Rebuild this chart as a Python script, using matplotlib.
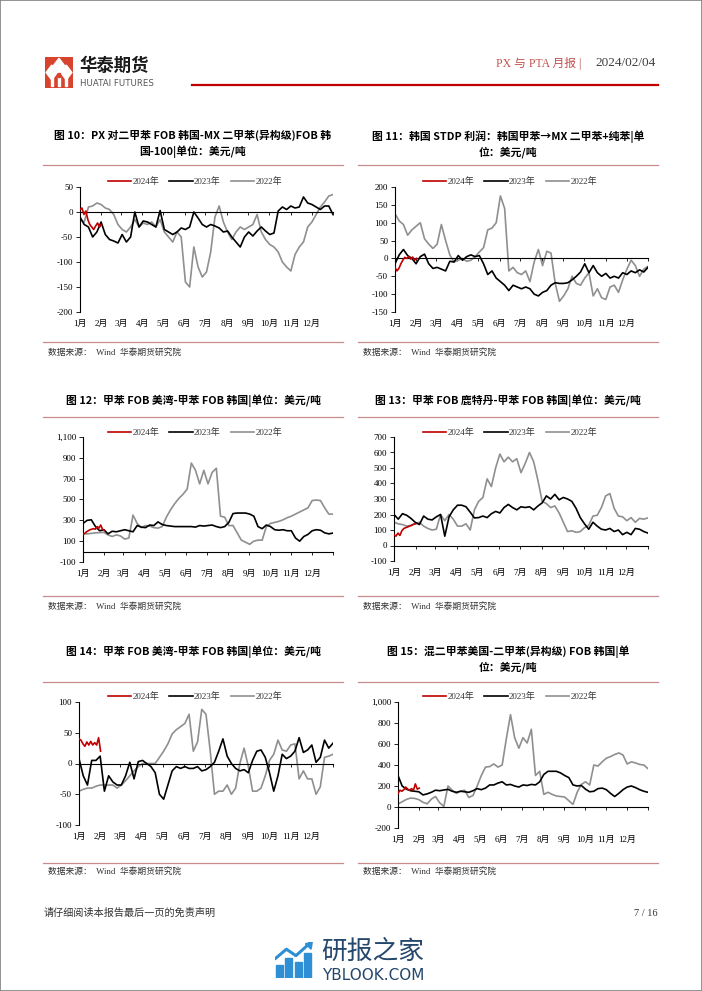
import numpy as np
import matplotlib.pyplot as plt
from matplotlib.patches import Rectangle, Polygon
from matplotlib.lines import Line2D

plt.rcParams['font.family'] = ['Liberation Serif', 'Noto Sans CJK SC', 'DejaVu Sans']
plt.rcParams['axes.unicode_minus'] = False

W, H = 702, 991

month_labels = [f'{m}月' for m in range(1, 13)]
month_days = [0, 31, 59, 90, 120, 151, 181, 212, 243, 273, 304, 334]
series_names = ['2024年', '2023年', '2022年']
series_colors = ['#c00000', '#000000', '#8f8f8f']

# ---- chart 10: PX - MX spread ----
c10_2024 = [5, 8, -5, 2, -15, -25, -30, -35, -28, -22, -30, -25]
c10_2023 = [-10, -25, -30, -50, -40, -20, -45, -55, -58, -62,
            -45, -60, -50, 0, -30, -18, -20, -25, -30, 3,
            -35, -40, -45, -40, -32, -35, -30, 0, -12, -25,
            -30, -25, -28, -32, -40, -38, -50, -60, -70, -50,
            -40, -48, -38, -30, -38, -45, -42, 2, 10, 5,
            12, 8, 10, 30, 18, 15, 10, 5, 12, 12, -5]
c10_2022 = [-15, -20, 10, 12, 18, 15, 8, 5, -5, -25,
            -35, -40, -30, -15, -30, -22, -25, -20, -30, -15,
            -40, -50, -60, -40, -50, -140, -150, -70, -110, -130,
            -120, -80, -10, 12, -20, -40, -55, -40, -30, -35,
            -30, -25, -5, -40, -55, -65, -70, -80, -100, -110,
            -118, -85, -70, -60, -30, -20, -5, 10, 20, 32, 35]

# ---- chart 11: Korea STDP margin ----
c11_2024 = [-25, -35, -28, -15, -5, 3, 0, 5, -2, 4, -5, 0]
c11_2023 = [-15, 10, 25, 8, 0, -15, 5, 12, -15, -28,
            -25, -30, -35, -8, -10, 8, -5, 5, 10, 5,
            8, -15, -45, -35, -55, -65, -75, -90, -75, -80,
            -85, -80, -85, -100, -105, -95, -90, -75, -68, -70,
            -70, -68, -60, -50, -38, -15, -40, -20, -40, -50,
            -42, -55, -50, -55, -40, -45, -35, -40, -32, -38, -25]
c11_2022 = [125, 105, 95, 65, 80, 90, 100, 55, 40, 28,
            40, 95, 50, 10, -10, -5, 0, -8, -5, 5,
            18, 30, 80, 85, 100, 175, 140, -35, -25, -40,
            -45, -35, -65, -10, 25, -20, 20, 15, -70, -120,
            -105, -85, -50, -70, -75, -55, -40, -105, -85, -110,
            -115, -80, -75, -95, -60, -30, -5, -20, -50, -30, -22]

# ---- chart 12: toluene USG - Korea ----
c12_2024 = [165, 175, 190, 200, 210, 215, 220, 215, 240, 225, 255, 215, 205]
c12_2023 = [270, 300, 305, 240, 200, 210, 170, 195, 190, 200,
            210, 200, 190, 250, 235, 230, 255, 250, 285, 260,
            250, 245, 240, 240, 240, 240, 240, 235, 250, 245,
            250, 255, 240, 230, 240, 280, 365, 370, 370, 370,
            360, 340, 240, 220, 255, 240, 210, 205, 210, 200,
            200, 130, 100, 145, 165, 200, 210, 205, 180, 170, 178]
c12_2022 = [170, 170, 175, 180, 182, 185, 160, 145, 160, 150,
            120, 130, 350, 270, 230, 250, 245, 230, 225, 240,
            330, 400, 460, 510, 550, 600, 850, 780, 650, 780,
            650, 760, 800, 340, 330, 250, 250, 180, 110, 90,
            70, 100, 110, 110, 240, 270, 280, 290, 305, 325,
            340, 360, 380, 400, 420, 490, 495, 490, 420, 360, 360]

# ---- chart 13: toluene Rotterdam - Korea ----
c13_2024 = [70, 60, 80, 65, 95, 110, 115, 120, 125, 130, 138, 140]
c13_2023 = [200, 170, 205, 195, 175, 150, 135, 190, 170, 165,
            185, 200, 60, 185, 230, 260, 260, 250, 215, 178,
            180, 190, 180, 205, 220, 210, 245, 265, 245, 230,
            250, 245, 250, 230, 255, 275, 320, 300, 330, 295,
            310, 300, 285, 240, 180, 140, 105, 150, 125, 105,
            100, 110, 90, 100, 70, 85, 70, 110, 105, 90, 80]
c13_2022 = [150, 140, 135, 125, 130, 140, 150, 125, 110, 100,
            105, 200, 160, 200, 170, 125, 125, 140, 100, 230,
            285, 310, 430, 380, 500, 590, 540, 570, 540, 560,
            470, 530, 600, 540, 420, 285, 270, 245, 255, 210,
            150, 90, 95, 85, 90, 115, 130, 190, 195, 245,
            320, 335, 240, 190, 185, 160, 180, 150, 175, 170, 178]

# ---- chart 14: toluene USG - Korea (2) ----
c14_2024 = [40, 38, 32, 28, 35, 30, 36, 30, 34, 30, 42, 20]
c14_2023 = [8, -20, -35, 5, 5, 12, -45, -20, -30, -35,
            -35, -20, 2, -25, 3, 5, 0, -5, -15, -50,
            -58, -35, -12, -5, -8, -5, -8, -8, -5, -12,
            -10, -5, 2, 20, 40, 12, 0, -8, -12, -10,
            -15, 5, 20, 22, 10, -15, -45, -20, 15, 8,
            12, 20, 42, 18, 22, 30, 2, 10, 38, 25, 33]
c14_2022 = [-45, -42, -40, -40, -37, -35, -35, -35, -35, -40,
            -35, -28, -20, -12, -5, 0, 0, 0, 0, 10,
            20, 32, 48, 55, 60, 65, 80, 20, 35, 88,
            80, 20, -50, -45, -45, -35, -50, -40, 0, 25,
            -5, -45, -45, -40, -20, 5, 15, 38, 22, 20,
            30, 32, -25, -12, -25, -25, -50, -38, 10, 12, 15]

# ---- chart 15: MX US - MX Korea ----
c15_2024 = [130, 160, 150, 165, 190, 170, 160, 175, 160, 220, 170, 180]
c15_2023 = [300, 200, 170, 155, 150, 145, 115, 125, 140, 160,
            155, 162, 168, 150, 140, 150, 145, 140, 155, 175,
            165, 180, 210, 210, 228, 240, 210, 215, 200, 190,
            210, 205, 215, 210, 240, 310, 340, 340, 340, 325,
            300, 280, 210, 200, 205, 170, 145, 150, 175, 180,
            165, 130, 100, 130, 165, 190, 200, 185, 165, 150, 140]
c15_2022 = [30, 50, 72, 85, 82, 70, 45, 30, 75, 100,
            40, 5, 200, 160, 130, 150, 160, 90, 110, 200,
            300, 380, 385, 410, 380, 400, 650, 880, 660, 560,
            660, 610, 740, 300, 340, 120, 140, 120, 105, 100,
            95, 60, 25, 140, 215, 240, 210, 400, 390, 430,
            465, 480, 500, 515, 495, 410, 430, 420, 405, 400, 365]

titles = {
    10: '图 10：PX 对二甲苯 FOB 韩国-MX 二甲苯(异构级)FOB 韩\n国-100|单位：美元/吨',
    11: '图 11：韩国 STDP 利润：韩国甲苯→MX 二甲苯+纯苯|单\n位：美元/吨',
    12: '图 12：甲苯 FOB 美湾-甲苯 FOB 韩国|单位：美元/吨',
    13: '图 13：甲苯 FOB 鹿特丹-甲苯 FOB 韩国|单位：美元/吨',
    14: '图 14：甲苯 FOB 美湾-甲苯 FOB 韩国|单位：美元/吨',
    15: '图 15：混二甲苯美国-二甲苯(异构级) FOB 韩国|单\n位：美元/吨',
}


def fx(px):
    return px / W


def fy(py):
    return 1 - py / H


fig = plt.figure(figsize=(W / 100, H / 100), dpi=100)
fig.patch.set_facecolor('white')

cjk = ['Noto Sans CJK SC', 'DejaVu Sans']
rule_color = '#c98c8c'


def hline(x0, x1, y, color, lw):
    fig.add_artist(Line2D([fx(x0), fx(x1)], [fy(y), fy(y)], color=color, lw=lw))


def draw_chart(num, box, panel, rows, data, ylim, yticks):
    x0, x1, ytop, ybot = box
    px0, px1 = panel
    title_top, rule_y, legend_y, bottom_rule, source_y = rows
    v24, v23, v22 = data

    # title + rules + source
    fig.text(fx((px0 + px1) / 2), fy(title_top), titles[num], ha='center', va='top',
             fontsize=7.8, fontweight='bold', family=cjk, linespacing=1.45)
    hline(px0, px1, rule_y, rule_color, 0.9)
    hline(px0, px1, bottom_rule, rule_color, 0.9)
    fig.text(fx(px0 + 5), fy(source_y), '数据来源：  Wind  华泰期货研究院', ha='left', va='center',
             fontsize=6.3, color='#333333')

    ax = fig.add_axes([fx(x0), fy(ybot), (x1 - x0) / W, (ybot - ytop) / H])
    d_full = np.linspace(0, 365, len(v23))
    d_22 = np.linspace(0, 365, len(v22))
    d_24 = np.linspace(0, 31, len(v24))
    ax.plot(d_24, v24, color=series_colors[0], lw=1.2, label=series_names[0], zorder=4)
    ax.plot(d_full, v23, color=series_colors[1], lw=1.2, label=series_names[1], zorder=3)
    ax.plot(d_22, v22, color=series_colors[2], lw=1.2, label=series_names[2], zorder=2)

    ax.set_xlim(0, 365)
    ax.set_ylim(*ylim)
    ax.set_yticks(yticks)
    ax.set_yticklabels([f'{v:,.0f}' for v in yticks])
    for s in ['top', 'right']:
        ax.spines[s].set_visible(False)
    ax.spines['left'].set_linewidth(0.8)
    ax.spines['bottom'].set_position(('data', 0))
    ax.spines['bottom'].set_linewidth(0.8)
    ax.set_xticks(month_days + [365])
    ax.tick_params(axis='x', direction='out', length=2, width=0.6, labelbottom=False)
    ax.tick_params(axis='y', direction='out', length=3, width=0.6, labelsize=6.5, pad=2)
    ax.set_facecolor('none')
    for d, lab in zip(month_days, month_labels):
        ax.annotate(lab, xy=(d, 0), xycoords=('data', 'axes fraction'), xytext=(0, -8.5),
                    textcoords='offset points', ha='center', va='center', fontsize=6.5)

    leg = ax.legend(loc='center', bbox_to_anchor=(fx(px0 + 152), fy(legend_y)),
                    bbox_transform=fig.transFigure, ncol=3, frameon=False, fontsize=6.5,
                    handlelength=2.6, handletextpad=0.15, columnspacing=1.1, borderpad=0)
    for t in leg.get_texts():
        t.set_color('#333333')
    return ax


left_panel = (43, 343)
right_panel = (358, 658)

draw_chart(10, (80, 333, 187, 312), left_panel, (130, 165, 182, 342, 352),
           (c10_2024, c10_2023, c10_2022), (-200, 50), [-200, -150, -100, -50, 0, 50])
draw_chart(11, (395, 648, 187, 312), right_panel, (130, 165, 182, 342, 352),
           (c11_2024, c11_2023, c11_2022), (-150, 200), [-150, -100, -50, 0, 50, 100, 150, 200])
draw_chart(12, (83, 333, 437, 562), left_panel, (394, 417, 433, 596, 606),
           (c12_2024, c12_2023, c12_2022), (-100, 1100), [-100, 100, 300, 500, 700, 900, 1100])
draw_chart(13, (394, 648, 437, 561), right_panel, (394, 417, 433, 596, 606),
           (c13_2024, c13_2023, c13_2022), (-100, 700), [-100, 0, 100, 200, 300, 400, 500, 600, 700])
draw_chart(14, (79, 333, 702, 825), left_panel, (645, 682, 697, 863, 871),
           (c14_2024, c14_2023, c14_2022), (-100, 100), [-100, -50, 0, 50, 100])
draw_chart(15, (398, 648, 702, 828), right_panel, (645, 682, 697, 863, 871),
           (c15_2024, c15_2023, c15_2022), (-200, 1000), [-200, 0, 200, 400, 600, 800, 1000])

# ---- header ----
logo = fig.add_axes([fx(45), fy(88), 28 / W, 31 / H])
logo.set_xlim(0, 1)
logo.set_ylim(0, 1)
logo.axis('off')
logo.add_patch(Rectangle((0, 0), 1, 1, color='#d8432e'))
white = 'white'
logo.add_patch(Polygon([(0.5, 0.96), (0.7, 0.72), (0.5, 0.48), (0.3, 0.72)], color=white))
logo.add_patch(Polygon([(0.24, 0.74), (0.44, 0.5), (0.24, 0.26), (0.04, 0.5)], color=white))
logo.add_patch(Polygon([(0.76, 0.74), (0.96, 0.5), (0.76, 0.26), (0.56, 0.5)], color=white))
for bx in [0.2, 0.46, 0.72]:
    logo.add_patch(Rectangle((bx, 0.06), 0.08, 0.3, color=white))
logo.add_patch(Rectangle((0.47, 0.36), 0.06, 0.12, color='#d8432e'))

fig.text(fx(79), fy(66), '华泰期货', ha='left', va='center', fontsize=12.5,
         fontweight='bold', family=cjk, color='#1a1a1a')
fig.text(fx(80), fy(83), 'HUATAI FUTURES', ha='left', va='center', fontsize=6.2,
         family=['DejaVu Sans'], color='#555555')
fig.text(fx(581), fy(63), 'PX 与 PTA 月报 |', ha='right', va='center', fontsize=8.5,
         color='#c0504d')
fig.text(fx(656), fy(63), '2024/02/04', ha='right', va='center', fontsize=9.5,
         color='#404040')
hline(192, 658, 85, '#c00000', 1.6)

# ---- footer ----
fig.text(fx(44), fy(913), '请仔细阅读本报告最后一页的免责声明', ha='left', va='center',
         fontsize=7.3, family=cjk, color='#333333')
fig.text(fx(658), fy(913), '7 / 16', ha='right', va='center', fontsize=7.5, color='#333333')

icon = fig.add_axes([fx(275), fy(978), 38 / W, 36 / H])
icon.set_xlim(0, 1)
icon.set_ylim(0, 1)
icon.axis('off')
blue = '#2e8fd4'
for bx, bh in [(0.02, 0.35), (0.27, 0.55), (0.52, 0.45), (0.77, 0.7)]:
    icon.add_patch(Rectangle((bx, 0), 0.18, bh, color=blue))
icon.plot([0.02, 0.3, 0.55, 0.9], [0.55, 0.8, 0.62, 0.95], color=blue, lw=2.2)
icon.add_patch(Polygon([(0.98, 1.0), (0.8, 0.95), (0.95, 0.8)], color=blue))

fig.text(fx(321), fy(952), '研报之家', ha='left', va='center', fontsize=18.5,
         family=cjk, color='#24476b')
fig.text(fx(322), fy(975), 'YBLOOK.COM', ha='left', va='center', fontsize=11,
         family=['DejaVu Sans'], color='#24476b')

# page border
fig.add_artist(Rectangle((0.0007, 0.0005), 0.9986, 0.999, transform=fig.transFigure,
                         fill=False, edgecolor='#808080', lw=1.2))

fig.savefig('out.png', dpi=100, facecolor='white')
